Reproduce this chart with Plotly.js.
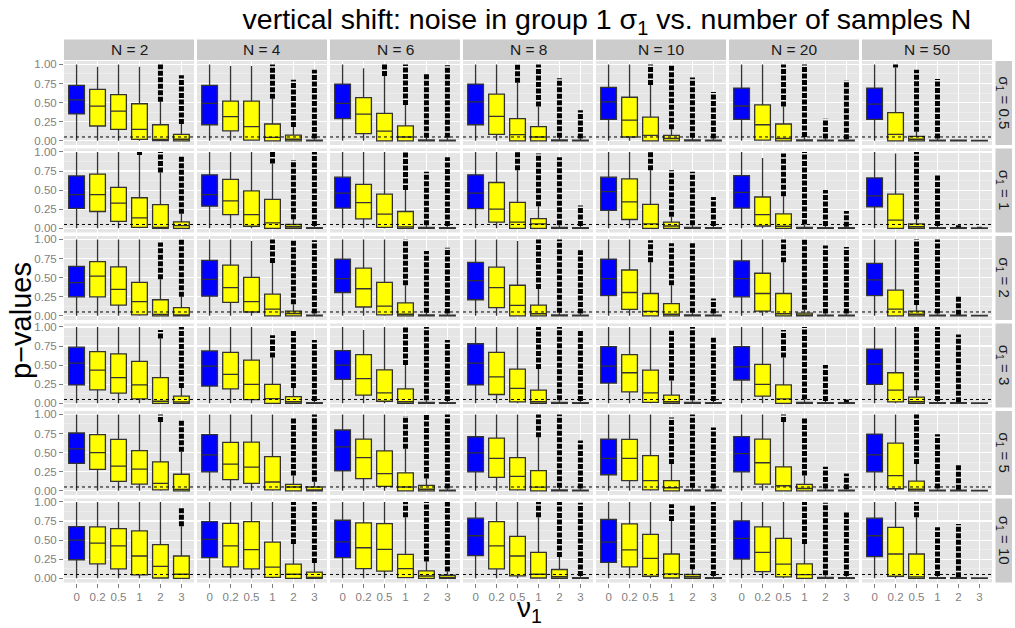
<!DOCTYPE html>
<html><head><meta charset="utf-8">
<script src="https://cdn.plot.ly/plotly-3.0.1.min.js"></script>
<style>html,body{margin:0;padding:0;background:#fff}</style>
</head><body><div id="chart" style="width:1015px;height:628px"></div>
<script>
// Facet labels
const N_LABELS = ['2','4','6','8','10','20','50'];
const SIGMA_LABELS = ['0.5','1','2','3','5','10'];
const NU = ['0','0.2','0.5','1','2','3'];

// Box statistics, indexed [sigma row][N column][nu box]
const Q1 = [
 [[.352,.194,.15,.018,.002,0],[.21,.13,.01,0,0,0],[.29,.093,0,0,0,0],[.21,.084,0,0,0,0],[.28,.05,0,0,0,0],[.28,.01,0,0,0,0],[.28,0,0,0,0,0]],
 [[.26,.22,.09,.013,0,0],[.29,.18,.027,0,0,0],[.265,.124,.013,0,0,0],[.257,.08,0,0,0,0],[.235,.115,0,0,0,0],[.265,.03,0,0,0,0],[.28,0,0,0,0,0]],
 [[.248,.248,.14,.013,0,0],[.257,.177,.05,0,0,0],[.305,.115,.013,0,0,0],[.21,.106,0,0,0,0],[.265,.084,0,0,0,0],[.248,.062,0,0,0,0],[.265,0,0,0,0,0]],
 [[.24,.177,.133,.058,0,0],[.226,.19,.049,0,0,0],[.314,.106,.027,0,0,0],[.24,.115,.018,0,0,0],[.265,.15,.013,0,0,0],[.305,.093,0,0,0,0],[.248,.018,0,0,0,0]],
 [[.358,.28,.124,.088,.013,0],[.248,.146,.097,.013,0,0],[.26,.16,.058,0,0,0],[.248,.177,.013,0,0,0],[.21,.133,.013,0,0,0],[.248,.088,0,0,0,0],[.248,.027,0,0,0,0]],
 [[.243,.19,.124,.044,.004,0],[.27,.15,.124,.013,0,0],[.27,.128,.093,.01,0,0],[.296,.124,.031,.004,0,0],[.208,.15,.027,.004,0,0],[.252,.088,.018,0,0,0],[.283,.027,0,0,0,0]]
];
const MED = [
 [[.537,.454,.388,.15,.018,.02],[.49,.317,.185,.044,.02,.002],[.49,.35,.128,.05,.003,.002],[.51,.32,.08,.05,.003,.002],[.51,.27,.07,.03,.003,.002],[.456,.21,.03,.003,.002,.002],[.48,.084,.02,.002,.002,.001]],
 [[.44,.44,.33,.137,.013,.035],[.44,.36,.18,.07,.02,.002],[.46,.336,.186,.018,.003,.002],[.46,.25,.08,.058,.003,.002],[.48,.345,.058,.03,.003,.002],[.47,.18,.027,.003,.002,.002],[.425,.106,.02,.002,.002,.001]],
 [[.434,.52,.345,.186,.018,.005],[.478,.37,.186,.088,.03,.002],[.487,.354,.128,.02,.003,.002],[.46,.37,.137,.027,.003,.002],[.487,.305,.058,.02,.003,.002],[.487,.292,.027,.005,.002,.002],[.47,.088,.02,.002,.002,.001]],
 [[.527,.434,.336,.24,.027,.018],[.487,.38,.248,.062,.02,.002],[.50,.323,.137,.02,.003,.002],[.527,.345,.195,.02,.003,.002],[.487,.40,.137,.02,.003,.002],[.478,.248,.058,.003,.002,.002],[.513,.173,.02,.002,.002,.001]],
 [[.55,.50,.323,.283,.097,.018],[.47,.35,.31,.115,.05,.01],[.575,.434,.226,.05,.02,.002],[.496,.425,.19,.049,.003,.002],[.425,.425,.133,.04,.003,.002],[.487,.367,.066,.03,.002,.002],[.47,.2,.02,.002,.002,.001]],
 [[.50,.46,.425,.292,.155,.053],[.51,.425,.376,.146,.053,.01],[.478,.40,.38,.128,.03,.005],[.557,.425,.292,.053,.02,.002],[.473,.372,.26,.058,.02,.002],[.522,.34,.186,.049,.003,.002],[.557,.318,.018,.002,.002,.001]]
];
const Q3 = [
 [[.727,.674,.604,.485,.21,.084],[.727,.52,.52,.22,.075,.01],[.743,.566,.358,.195,.012,.01],[.743,.61,.29,.186,.012,.01],[.70,.57,.31,.07,.012,.01],[.69,.47,.22,.012,.01,.008],[.69,.37,.058,.01,.008,.005]],
 [[.686,.71,.535,.40,.31,.084],[.70,.64,.49,.38,.05,.01],[.67,.575,.447,.22,.012,.01],[.70,.60,.34,.128,.012,.01],[.67,.646,.314,.08,.012,.01],[.69,.41,.19,.012,.01,.01],[.66,.447,.058,.01,.008,.005]],
 [[.646,.71,.64,.438,.21,.106],[.726,.664,.504,.283,.062,.01],[.743,.624,.438,.168,.012,.01],[.70,.637,.40,.14,.012,.01],[.743,.60,.292,.16,.012,.01],[.72,.557,.292,.035,.01,.01],[.686,.336,.062,.01,.008,.005]],
 [[.735,.677,.646,.549,.336,.093],[.686,.668,.566,.248,.088,.01],[.69,.637,.438,.19,.012,.01],[.78,.668,.447,.173,.012,.01],[.743,.637,.434,.106,.012,.01],[.743,.51,.24,.012,.01,.008],[.71,.40,.08,.01,.008,.005]],
 [[.757,.735,.673,.527,.38,.217],[.735,.633,.637,.447,.084,.05],[.796,.677,.522,.235,.07,.01],[.708,.69,.434,.265,.012,.01],[.677,.673,.46,.133,.012,.01],[.71,.677,.314,.084,.01,.008],[.743,.624,.128,.01,.008,.005]],
 [[.677,.673,.65,.62,.44,.292],[.743,.72,.743,.473,.186,.08],[.76,.726,.717,.314,.097,.04],[.788,.743,.55,.34,.115,.01],[.77,.712,.575,.318,.05,.01],[.752,.673,.522,.19,.012,.01],[.788,.668,.318,.01,.008,.005]]
];
// upper whisker end
const WHISKER = [
 [[1,.97,1,.97,.51,.22],[1,.98,.98,.55,.18,.03],[1,.95,.85,.47,.04,.04],[1,1,.76,.45,.04,.03],[1,1,.73,.15,.04,.03],[1,1,.45,.05,.03,.02],[1,.96,.12,.03,.015,.01]],
 [[1,1,1,.96,.73,.19],[1,1,1,.85,.12,.03],[1,1,1,.5,.04,.03],[1,1,.76,.29,.04,.03],[1,1,.76,.15,.04,.03],[1,.92,.42,.05,.03,.02],[1,.98,.12,.03,.015,.01]],
 [[1,1,1,1,.48,.25],[1,1,.98,.69,.15,.03],[1,1,1,.4,.04,.03],[1,1,.98,.35,.04,.03],[1,1,.7,.4,.04,.03],[1,1,.7,.08,.03,.03],[1,1,.14,.03,.015,.01]],
 [[1,1,1,1,.85,.2],[1,1,1,.6,.2,.03],[1,.96,1,.5,.04,.03],[1,1,1,.45,.04,.03],[1,1,1,.3,.04,.03],[1,1,.6,.05,.03,.015],[1,1,.17,.03,.015,.01]],
 [[1,1,1,1,.9,.51],[1,1,1,1,.2,.12],[1,1,1,.55,.16,.03],[1,1,1,.7,.04,.03],[1,1,1,.35,.04,.03],[1,1,.9,.2,.03,.02],[1,1,.35,.03,.015,.01]],
 [[1,1,1,1,1,.68],[1,1,1,1,.45,.2],[1,1,1,.8,.22,.09],[1,1,1,.8,.28,.03],[1,1,1,.75,.12,.03],[1,1,1,.45,.04,.03],[1,1,.8,.03,.015,.01]]
];
// highest outlier (0 = no outliers)
const OUTLIER_MAX = [
 [[0,0,0,0,1,.86],[0,0,0,1,.8,.93],[0,0,1,1,.87,.99],[0,0,1,1,.82,.4],[0,0,1,1,.83,.64],[0,0,1,1,.29,.79],[0,1,.93,.81,0,0]],
 [[0,0,0,1,1,.95],[0,0,0,1,.89,1],[0,0,0,1,.74,.93],[0,0,1,.98,.93,.3],[0,0,1,.76,.74,.41],[0,0,.98,1,.5,.225],[0,0,1,.70,.04,.02]],
 [[0,0,0,0,.96,1],[0,0,0,1,1,.99],[0,0,0,1,.85,.89],[0,0,0,1,1,.86],[0,0,.99,.95,.95,.225],[0,0,1,1,.92,.9],[0,0,1,1,.265,0]],
 [[0,0,0,0,.96,1],[0,0,0,.89,.96,.83],[0,0,0,1,1,.83],[0,0,0,1,1,.96],[0,0,0,.95,1,.86],[0,0,.96,1,.5,.05],[0,0,1,1,.9,0]],
 [[0,0,0,0,1,.93],[0,0,0,0,.96,1],[0,0,0,.98,1,1],[0,0,0,1,1,.66],[0,0,0,.96,1,.83],[0,0,1,.96,.314,.226],[0,0,1,.74,.336,0]],
 [[0,0,0,0,0,.93],[0,0,0,0,1,1],[0,0,0,1,1,1],[0,0,0,1,1,.99],[0,0,0,.97,.97,1],[0,0,0,1,.99,.87],[0,0,1,.668,.71,0]]
];
const ALPHA = 0.05;

const W = 1015, H = 628;
const FONT = 'Liberation Sans, Arial, Helvetica, sans-serif';
const colX0 = 64, colW = 130, colStep = 133;
const rowY0 = 61, rowH = 84, rowStep = 87.5;
const GREY_TXT = '#7F7F7F';

const traces = [];
const shapes = [];
const annotations = [];
const layout = {
  width: W, height: H,
  margin: {l:0, r:0, t:0, b:0},
  paper_bgcolor: '#FFFFFF',
  plot_bgcolor: '#E5E5E5',
  showlegend: false,
  boxmode: 'overlay',
  font: {family: FONT, color: '#000'},
  title: {
    text: 'vertical shift: noise in group 1 σ<sub>1</sub> vs. number of samples N',
    x: 607/W, xanchor: 'center', y: 1 - 19/H, yanchor: 'middle',
    font: {family: FONT, size: 28.5, color: '#000'}
  }
};

for (let r = 0; r < 6; r++) {
  for (let c = 0; c < 7; c++) {
    const k = r*7 + c + 1;
    const xa = k === 1 ? 'x' : 'x' + k;
    const ya = k === 1 ? 'y' : 'y' + k;
    const xl = k === 1 ? 'xaxis' : 'xaxis' + k;
    const yl = k === 1 ? 'yaxis' : 'yaxis' + k;
    const x0 = colX0 + c*colStep, x1 = x0 + colW;
    const top = rowY0 + r*rowStep, bot = top + rowH;
    layout[xl] = {
      domain: [x0/W, x1/W], anchor: ya, type: 'category',
      categoryorder: 'array', categoryarray: NU, range: [-0.6, 5.6],
      showgrid: true, gridcolor: '#FFFFFF', gridwidth: 1.2,
      zeroline: false, showline: false,
      showticklabels: r === 5, ticks: r === 5 ? 'outside' : '',
      ticklen: 4, tickwidth: 1, tickcolor: GREY_TXT,
      tickfont: {family: FONT, size: 11.5, color: GREY_TXT},
      fixedrange: true
    };
    layout[yl] = {
      domain: [1 - bot/H, 1 - top/H], anchor: xa,
      range: [-0.055, 1.045],
      tickvals: [0, 0.25, 0.5, 0.75, 1],
      ticktext: ['0.00','0.25','0.50','0.75','1.00'],
      showgrid: true, gridcolor: '#FFFFFF', gridwidth: 1.2,
      minor: {tickvals: [0.125, 0.375, 0.625, 0.875], showgrid: true, gridcolor: '#F2F2F2', gridwidth: 0.6},
      zeroline: false, showline: false,
      showticklabels: c === 0, ticks: c === 0 ? 'outside' : '',
      ticklen: 4, tickwidth: 1, tickcolor: GREY_TXT,
      tickfont: {family: FONT, size: 11.5, color: GREY_TXT},
      fixedrange: true
    };
    const boxCommon = {
      type: 'box', xaxis: xa, yaxis: ya, width: 0.75, whiskerwidth: 0,
      boxpoints: false, hoverinfo: 'skip',
      line: {color: '#333333', width: 1.3}
    };
    // blue control box (nu = 0)
    traces.push(Object.assign({}, boxCommon, {
      x: [NU[0]], q1: [Q1[r][c][0]], median: [MED[r][c][0]], q3: [Q3[r][c][0]],
      lowerfence: [0], upperfence: [WHISKER[r][c][0]], fillcolor: '#0000FF'
    }));
    // yellow boxes
    traces.push(Object.assign({}, boxCommon, {
      x: NU.slice(1), q1: Q1[r][c].slice(1), median: MED[r][c].slice(1), q3: Q3[r][c].slice(1),
      lowerfence: [0,0,0,0,0], upperfence: WHISKER[r][c].slice(1), fillcolor: '#FFFF00'
    }));
    // outlier columns
    const ox = [], oy = [];
    for (let b = 0; b < 6; b++) {
      const om = OUTLIER_MAX[r][c][b];
      if (om > 0) { ox.push(NU[b], NU[b], null); oy.push(WHISKER[r][c][b], om, null); }
    }
    if (ox.length) {
      traces.push({type: 'scatter', mode: 'lines', xaxis: xa, yaxis: ya, x: ox, y: oy,
        line: {color: '#000000', width: 5, dash: '5px,1.5px'}, hoverinfo: 'skip', connectgaps: false});
    }
    // significance level line
    shapes.push({type: 'line', xref: xa + ' domain', yref: ya, x0: 0, x1: 1, y0: ALPHA, y1: ALPHA,
      line: {color: '#000000', width: 1, dash: 'dot'}, layer: 'above'});
    // top strips
    if (r === 0) {
      shapes.push({type: 'rect', xref: 'paper', yref: 'paper', x0: x0/W, x1: x1/W,
        y0: 1 - 60/H, y1: 1 - 39.5/H, fillcolor: '#CCCCCC', line: {width: 0}, layer: 'below'});
      annotations.push({xref: 'paper', yref: 'paper', x: (x0 + colW/2)/W, y: 1 - 50/H,
        xanchor: 'center', yanchor: 'middle', showarrow: false,
        text: 'N = ' + N_LABELS[c], font: {family: FONT, size: 15.5, color: '#1A1A1A'}});
    }
    // right strips
    if (c === 6) {
      shapes.push({type: 'rect', xref: 'paper', yref: 'paper', x0: 995.5/W, x1: 1012/W,
        y0: 1 - bot/H, y1: 1 - top/H, fillcolor: '#CCCCCC', line: {width: 0}, layer: 'below'});
      annotations.push({xref: 'paper', yref: 'paper', x: 1003.75/W, y: 1 - (top + rowH/2)/H,
        xanchor: 'center', yanchor: 'middle', showarrow: false, textangle: 90,
        text: 'σ<sub>1</sub> = ' + SIGMA_LABELS[r], font: {family: FONT, size: 15, color: '#1A1A1A'}});
    }
  }
}
// axis titles
annotations.push({xref: 'paper', yref: 'paper', x: 21/W, y: 1 - 321/H, xanchor: 'center', yanchor: 'middle',
  showarrow: false, textangle: -90, text: 'p\u2212values', font: {family: FONT, size: 29, color: '#000'}});
annotations.push({xref: 'paper', yref: 'paper', x: 529/W, y: 1 - 609/H, xanchor: 'center', yanchor: 'middle',
  showarrow: false, text: 'ν<sub>1</sub>', font: {family: FONT, size: 28, color: '#000'}});

layout.shapes = shapes;
layout.annotations = annotations;
Plotly.newPlot('chart', traces, layout, {staticPlot: true, displayModeBar: false});
</script>
</body></html>
